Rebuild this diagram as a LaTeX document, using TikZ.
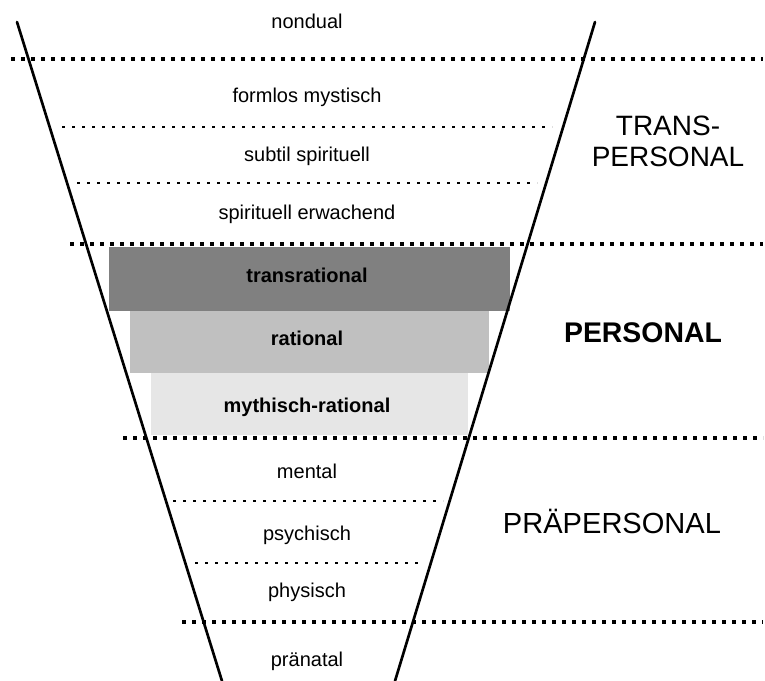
\documentclass[tikz,border=0pt]{standalone}
\usepackage{fontspec}
\setmainfont{Liberation Sans}
\definecolor{stufeA}{HTML}{808080}
\definecolor{stufeB}{HTML}{C0C0C0}
\definecolor{stufeC}{HTML}{E6E6E6}
\tikzset{
  grenze/.style={line width=3.3pt, dash pattern=on 3.3pt off 4.2pt},
  teilung/.style={line width=2.2pt, dash pattern=on 2.2pt off 5.3pt},
  trichter/.style={line width=2pt, line cap=round},
  stufe/.style={font=\fontsize{15pt}{18pt}\selectfont, anchor=base, inner sep=0pt},
  stufefett/.style={stufe, font=\fontsize{15pt}{18pt}\selectfont\bfseries},
  bereich/.style={font=\fontsize{21pt}{23.25pt}\selectfont, align=center, inner sep=0pt}
}
\begin{document}
\begin{tikzpicture}[x=0.75pt, y=-0.75pt, line join=round]
			\useasboundingbox (0,0) rectangle (765,681);
			\coordinate (LO) at (17,22);
			\coordinate (LU) at (222,681);
			\coordinate (RO) at (595,22);
			\coordinate (RU) at (395,681);
			% Stufen im personalen Bereich
			\fill[stufeA] (109,247) rectangle (510,311);
			\fill[stufeB] (130,311) rectangle (489,373);
			\fill[stufeC] (151,373) rectangle (468,435);
			% Grenzen zwischen den Bereichen
			\foreach \y/\x in {59/11, 244/70, 438/123, 622/182}
			\draw[grenze] (\x,\y) -- (763,\y);
			% Teilungen innerhalb der Bereiche
			\draw[teilung] (62,127) -- (552,127);
			\draw[teilung] (77,183) -- (537,183);
			\draw[teilung] (173,501) -- (443,501);
			\draw[teilung] (195,563) -- (420,563);
			% Trichter
			\draw[trichter] (LO) -- (LU);
			\draw[trichter] (RO) -- (RU);
			% Stufen
			\foreach \n/\y/\t in {nond/29/nondual, form/103/formlos mystisch, subt/162/subtil spirituell,
			  spir/220/spirituell erwachend, ment/478/mental, psyc/540/psychisch, phys/597/physisch, pran/666/pränatal}
			\node[stufe] (\n) at (307,\y) {\t};
			\node[stufefett] (trra) at (307,283) {transrational};
			\node[stufefett] (rati) at (307,345) {rational};
			\node[stufefett] (myra) at (307,412) {mythisch-rational};
			% Bereiche
			\node[bereich] (tran) at (668,141.5) {TRANS-\\PERSONAL};
			\node[bereich, font=\fontsize{21.3pt}{24pt}\selectfont\bfseries, anchor=base] (pers) at (643,343) {PERSONAL};
			\node[bereich, font=\fontsize{21.8pt}{24pt}\selectfont, anchor=base] (prae) at (612,533) {PRÄPERSONAL};
		\end{tikzpicture}
\end{document}
